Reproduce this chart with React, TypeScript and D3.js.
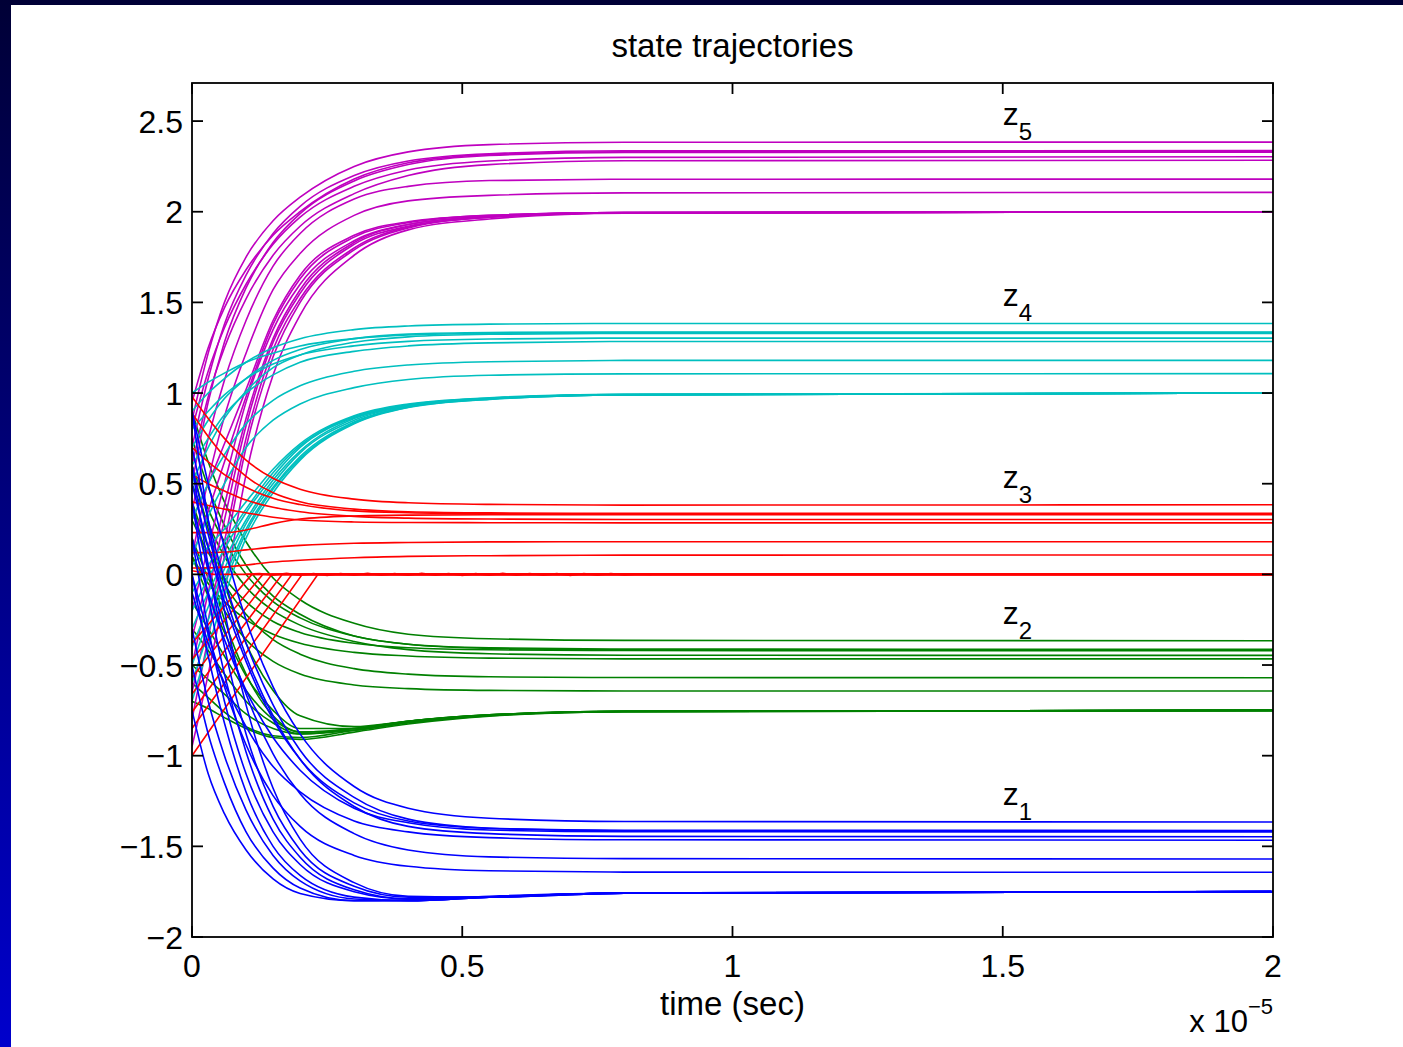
import React from "react";
import * as d3 from "d3";

// time samples (x 1e-5 s) shared by the smooth trajectories
const T = [0, 0.03, 0.06, 0.1, 0.15, 0.2, 0.3, 0.4, 0.55, 0.8, 2.0];

// z5 (magenta)
const z5Curves = [
  [0.85, 1.22, 1.5, 1.75, 1.95, 2.08, 2.25, 2.33, 2.37, 2.383, 2.384],
  [0.7, 1.08, 1.38, 1.65, 1.88, 2.03, 2.2, 2.28, 2.32, 2.336, 2.337],
  [0.95, 1.25, 1.47, 1.68, 1.87, 2.0, 2.18, 2.27, 2.315, 2.331, 2.333],
  [0.5, 0.95, 1.28, 1.58, 1.83, 1.99, 2.17, 2.26, 2.31, 2.327, 2.329],
  [0.8, 1.12, 1.36, 1.6, 1.82, 1.97, 2.14, 2.23, 2.28, 2.3, 2.303],
  [0.6, 0.98, 1.25, 1.52, 1.76, 1.92, 2.1, 2.2, 2.26, 2.281, 2.284],
  [0.35, 0.75, 1.07, 1.4, 1.7, 1.88, 2.07, 2.14, 2.172, 2.179, 2.18],
  [0.1, 0.52, 0.87, 1.22, 1.57, 1.77, 1.98, 2.06, 2.09, 2.104, 2.107],
  [-0.2, 0.15, 0.5, 0.95, 1.35, 1.6, 1.84, 1.93, 1.975, 1.995, 2.0],
  [-0.5, -0.1, 0.3, 0.82, 1.28, 1.55, 1.82, 1.92, 1.97, 1.994, 2.0],
  [-0.8, -0.35, 0.1, 0.7, 1.2, 1.5, 1.79, 1.91, 1.97, 1.993, 2.0],
  [0.1, 0.35, 0.62, 0.98, 1.38, 1.63, 1.86, 1.94, 1.98, 1.996, 2.0],
  [-0.95, -0.55, -0.1, 0.55, 1.1, 1.43, 1.76, 1.9, 1.96, 1.992, 2.0],
  [-0.35, 0.0, 0.38, 0.86, 1.3, 1.57, 1.83, 1.93, 1.975, 1.995, 2.0],
  [-0.65, -0.25, 0.18, 0.75, 1.24, 1.52, 1.8, 1.915, 1.97, 1.994, 2.0],
  [0.3, 0.5, 0.72, 1.02, 1.4, 1.65, 1.87, 1.945, 1.98, 1.996, 2.0],
];

// z4 (cyan)
const z4Curves = [
  [0.9, 1.0, 1.08, 1.17, 1.25, 1.3, 1.35, 1.37, 1.38, 1.384, 1.384],
  [0.7, 0.85, 0.97, 1.08, 1.18, 1.24, 1.3, 1.325, 1.334, 1.337, 1.337],
  [1.0, 1.06, 1.11, 1.17, 1.22, 1.26, 1.3, 1.32, 1.33, 1.333, 1.333],
  [0.5, 0.7, 0.86, 1.01, 1.14, 1.21, 1.28, 1.31, 1.324, 1.329, 1.329],
  [0.8, 0.9, 0.99, 1.08, 1.16, 1.21, 1.26, 1.285, 1.298, 1.303, 1.303],
  [0.6, 0.75, 0.88, 1.0, 1.1, 1.17, 1.23, 1.26, 1.277, 1.284, 1.284],
  [0.3, 0.5, 0.66, 0.83, 0.96, 1.04, 1.12, 1.155, 1.173, 1.18, 1.18],
  [0.1, 0.32, 0.5, 0.7, 0.85, 0.94, 1.03, 1.075, 1.098, 1.106, 1.107],
  [-0.3, -0.1, 0.08, 0.3, 0.52, 0.68, 0.86, 0.93, 0.97, 0.992, 1.0],
  [-0.5, -0.25, -0.02, 0.25, 0.48, 0.65, 0.84, 0.925, 0.968, 0.99, 1.0],
  [-0.1, 0.05, 0.18, 0.36, 0.56, 0.71, 0.87, 0.935, 0.972, 0.992, 1.0],
  [-0.7, -0.4, -0.12, 0.2, 0.45, 0.63, 0.83, 0.92, 0.965, 0.99, 1.0],
  [-0.2, -0.02, 0.14, 0.34, 0.54, 0.7, 0.865, 0.935, 0.97, 0.992, 1.0],
  [-0.6, -0.32, -0.06, 0.23, 0.47, 0.64, 0.835, 0.922, 0.966, 0.99, 1.0],
  [0.05, 0.15, 0.25, 0.4, 0.58, 0.72, 0.875, 0.94, 0.974, 0.993, 1.0],
  [-0.4, -0.18, 0.03, 0.28, 0.5, 0.67, 0.85, 0.93, 0.97, 0.991, 1.0],
];

// z3 (red): smooth trajectories
const z3Curves = [
  [0.98, 0.86, 0.75, 0.63, 0.53, 0.47, 0.415, 0.395, 0.386, 0.382, 0.384],
  [0.89, 0.76, 0.65, 0.54, 0.45, 0.4, 0.36, 0.345, 0.339, 0.337, 0.337],
  [0.7, 0.62, 0.55, 0.48, 0.42, 0.385, 0.35, 0.34, 0.335, 0.333, 0.333],
  [0.23, 0.23, 0.23, 0.245, 0.28, 0.305, 0.322, 0.327, 0.329, 0.329, 0.329],
  [0.55, 0.5, 0.46, 0.41, 0.37, 0.345, 0.32, 0.31, 0.305, 0.303, 0.303],
  [0.4, 0.38, 0.36, 0.34, 0.315, 0.3, 0.289, 0.286, 0.285, 0.284, 0.284],
  [0.12, 0.12, 0.123, 0.135, 0.15, 0.16, 0.172, 0.176, 0.179, 0.18, 0.18],
  [0.035, 0.036, 0.04, 0.052, 0.068, 0.078, 0.092, 0.099, 0.103, 0.106, 0.107],
];
// z3 (red): straight ramps reaching 0
const z3RampStart = [-1.0, -0.85, -0.76, -0.66, -0.57, -0.47, -0.38, 0.02];
const z3RampEnd = [0.233, 0.204, 0.185, 0.167, 0.148, 0.131, 0.111, 0.04];
// chattering around 0
const z3ChatterT = [0.1, 0.125, 0.15, 0.175, 0.2, 0.225, 0.25, 0.275, 0.3, 0.325, 0.35, 0.375, 0.4, 0.425, 0.45, 0.475, 0.5, 0.525, 0.55, 0.575, 0.6, 0.625, 0.65, 0.675, 0.7, 0.725, 0.75, 0.775, 0.8, 0.825, 0.85];
const z3ChatterV = [0.0, 0.005, -0.004, 0.006, -0.005, 0.004, -0.006, 0.005, -0.004, 0.006, -0.005, 0.004, -0.005, 0.006, -0.004, 0.005, -0.006, 0.004, -0.005, 0.006, -0.004, 0.005, -0.005, 0.004, -0.006, 0.005, -0.004, 0.005, -0.003, 0.002, 0.0];

// z2 (green)
const z2Curves = [
  [0.9, 0.62, 0.4, 0.18, -0.02, -0.14, -0.27, -0.33, -0.355, -0.364, -0.366],
  [0.6, 0.36, 0.18, 0.0, -0.15, -0.24, -0.34, -0.385, -0.405, -0.412, -0.413],
  [0.75, 0.48, 0.27, 0.05, -0.12, -0.22, -0.34, -0.385, -0.408, -0.416, -0.417],
  [0.3, 0.12, -0.02, -0.15, -0.26, -0.32, -0.38, -0.405, -0.416, -0.42, -0.421],
  [0.5, 0.28, 0.1, -0.07, -0.2, -0.28, -0.37, -0.415, -0.438, -0.446, -0.447],
  [0.1, -0.05, -0.15, -0.25, -0.33, -0.38, -0.43, -0.45, -0.462, -0.466, -0.466],
  [0.4, 0.15, -0.05, -0.22, -0.36, -0.44, -0.52, -0.55, -0.565, -0.569, -0.57],
  [0.2, -0.02, -0.2, -0.36, -0.48, -0.55, -0.61, -0.63, -0.64, -0.643, -0.643],
  [0.4, 0.05, -0.25, -0.55, -0.78, -0.87, -0.85, -0.81, -0.775, -0.756, -0.75],
  [-0.6, -0.68, -0.76, -0.84, -0.89, -0.9, -0.86, -0.82, -0.78, -0.757, -0.75],
  [-0.3, -0.42, -0.55, -0.7, -0.82, -0.88, -0.86, -0.815, -0.778, -0.756, -0.75],
  [0.1, -0.12, -0.32, -0.56, -0.75, -0.85, -0.85, -0.81, -0.775, -0.755, -0.75],
  [-0.7, -0.74, -0.79, -0.85, -0.9, -0.91, -0.87, -0.825, -0.782, -0.757, -0.75],
  [-0.5, -0.58, -0.66, -0.77, -0.85, -0.88, -0.85, -0.81, -0.776, -0.755, -0.75],
  [0.6, 0.25, -0.05, -0.38, -0.64, -0.78, -0.84, -0.81, -0.775, -0.755, -0.75],
  [-0.15, -0.3, -0.45, -0.64, -0.8, -0.87, -0.86, -0.815, -0.778, -0.756, -0.75],
];

// z1 (blue)
const z1Curves = [
  [0.9, 0.5, 0.15, -0.25, -0.62, -0.88, -1.17, -1.29, -1.345, -1.363, -1.366],
  [0.5, 0.15, -0.15, -0.48, -0.8, -1.02, -1.26, -1.36, -1.4, -1.411, -1.413],
  [0.7, 0.3, -0.03, -0.38, -0.72, -0.97, -1.23, -1.35, -1.4, -1.415, -1.417],
  [0.2, -0.1, -0.36, -0.64, -0.9, -1.08, -1.29, -1.37, -1.41, -1.419, -1.421],
  [0.6, 0.22, -0.1, -0.45, -0.78, -1.02, -1.28, -1.39, -1.43, -1.445, -1.447],
  [-0.1, -0.38, -0.6, -0.84, -1.06, -1.2, -1.36, -1.42, -1.452, -1.464, -1.466],
  [0.4, 0.02, -0.3, -0.66, -0.99, -1.21, -1.43, -1.52, -1.558, -1.568, -1.57],
  [0.0, -0.33, -0.62, -0.94, -1.22, -1.39, -1.55, -1.61, -1.635, -1.642, -1.643],
  [-0.75, -1.1, -1.32, -1.52, -1.68, -1.76, -1.8, -1.795, -1.775, -1.757, -1.75],
  [0.2, -0.3, -0.7, -1.1, -1.42, -1.6, -1.75, -1.79, -1.78, -1.758, -1.75],
  [0.6, 0.05, -0.4, -0.88, -1.28, -1.52, -1.72, -1.78, -1.78, -1.758, -1.75],
  [-0.3, -0.7, -1.0, -1.3, -1.55, -1.69, -1.79, -1.8, -1.78, -1.758, -1.75],
  [0.9, 0.3, -0.2, -0.72, -1.18, -1.46, -1.7, -1.775, -1.78, -1.758, -1.75],
  [-0.5, -0.88, -1.15, -1.42, -1.62, -1.73, -1.8, -1.8, -1.78, -1.757, -1.75],
  [0.4, -0.12, -0.55, -0.98, -1.35, -1.56, -1.74, -1.79, -1.78, -1.758, -1.75],
  [0.0, -0.45, -0.82, -1.2, -1.5, -1.66, -1.78, -1.8, -1.78, -1.758, -1.75],
];

const xTicks = [0, 0.5, 1, 1.5, 2];
const xTickLabels = ["0", "0.5", "1", "1.5", "2"];
const yTicks = [2.5, 2, 1.5, 1, 0.5, 0, -0.5, -1, -1.5, -2];
const yTickLabels = ["2.5", "2", "1.5", "1", "0.5", "0", "\u22120.5", "\u22121", "\u22121.5", "\u22122"];

const stateLabels = ["1", "2", "3", "4", "5"];
const stateLabelY = [-1.25, -0.25, 0.5, 1.5, 2.5];
const stateLabelX = 1.5;

const FONT = "'Liberation Sans', Arial, Helvetica, sans-serif";

export default function App() {
  const W = 1403, H = 1047;
  const L = 192, R = 1273, TOP = 83, BOT = 937;
  const x = d3.scaleLinear().domain([0, 2]).range([L, R]);
  const y = d3.scaleLinear().domain([-2, 2.71]).range([BOT, TOP]);
  const line = d3
    .line<[number, number]>()
    .x((d) => x(d[0]))
    .y((d) => y(d[1]))
    .curve(d3.curveMonotoneX);
  const straight = d3
    .line<[number, number]>()
    .x((d) => x(d[0]))
    .y((d) => y(d[1]));

  const toPts = (vals: number[]) => vals.map((v, i) => [T[i], v] as [number, number]);
  const tickLen = 11;
  const lw = 1.6;

  const groups: [number[][], string][] = [
    [z2Curves, "#008000"],
    [z5Curves, "#bf00bf"],
    [z4Curves, "#00bfbf"],
  ];

  return (
    <svg
      width={W}
      height={H}
      style={{ position: "absolute", left: 0, top: 0, display: "block" }}
      fontFamily={FONT}
    >
      <defs>
        <linearGradient id="bg" x1="0" y1="0" x2="0" y2="1">
          <stop offset="0" stopColor="#000036" />
          <stop offset="1" stopColor="#0000cc" />
        </linearGradient>
        <clipPath id="plotclip">
          <rect x={L} y={TOP} width={R - L} height={BOT - TOP} />
        </clipPath>
      </defs>
      <rect x={0} y={0} width={W} height={H} fill="url(#bg)" />
      <rect x={11} y={5} width={W - 11} height={H - 5} fill="#ffffff" />

      <g clipPath="url(#plotclip)" fill="none" strokeWidth={lw}>
        {groups.map(([curves, color], gi) =>
          curves.map((c, i) => (
            <path key={`g${gi}-${i}`} d={line(toPts(c)) || ""} stroke={color} />
          ))
        )}
        {z3Curves.map((c, i) => (
          <path key={`r${i}`} d={line(toPts(c)) || ""} stroke="#ff0000" />
        ))}
        {z3RampStart.map((v0, i) => (
          <path
            key={`rr${i}`}
            d={straight([[0, v0], [z3RampEnd[i], 0], [2, 0]]) || ""}
            stroke="#ff0000"
          />
        ))}
        <path
          d={straight(z3ChatterT.map((t, i) => [t, z3ChatterV[i]] as [number, number])) || ""}
          stroke="#ff0000"
        />
        {z1Curves.map((c, i) => (
          <path key={`b${i}`} d={line(toPts(c)) || ""} stroke="#0000ff" />
        ))}
      </g>

      {/* axes box */}
      <rect x={L} y={TOP} width={R - L} height={BOT - TOP} fill="none" stroke="#000" strokeWidth={1.8} />
      {/* ticks */}
      <g stroke="#000" strokeWidth={1.8}>
        {xTicks.map((t, i) => (
          <g key={`xt${i}`}>
            <line x1={x(t)} x2={x(t)} y1={BOT} y2={BOT - tickLen} />
            <line x1={x(t)} x2={x(t)} y1={TOP} y2={TOP + tickLen} />
          </g>
        ))}
        {yTicks.map((v, i) => (
          <g key={`yt${i}`}>
            <line x1={L} x2={L + tickLen} y1={y(v)} y2={y(v)} />
            <line x1={R} x2={R - tickLen} y1={y(v)} y2={y(v)} />
          </g>
        ))}
      </g>
      {/* tick labels */}
      <g fontSize={32} fill="#000">
        {xTicks.map((t, i) => (
          <text key={`xl${i}`} x={x(t)} y={BOT + 40} textAnchor="middle">
            {xTickLabels[i]}
          </text>
        ))}
        {yTicks.map((v, i) => (
          <text key={`yl${i}`} x={L - 9} y={y(v) + 11.5} textAnchor="end">
            {yTickLabels[i]}
          </text>
        ))}
      </g>
      {/* exponent */}
      <text x={R} y={1032} textAnchor="end" fontSize={31} fill="#000">
        x 10
        <tspan dy={-18} fontSize={22}>{"\u22125"}</tspan>
      </text>
      {/* title and x label */}
      <text x={(L + R) / 2} y={57} textAnchor="middle" fontSize={33} fill="#000">
        state trajectories
      </text>
      <text x={(L + R) / 2} y={1015} textAnchor="middle" fontSize={33} fill="#000">
        time (sec)
      </text>
      {/* state labels */}
      {stateLabels.map((s, i) => (
        <text key={`sl${i}`} x={x(stateLabelX)} y={y(stateLabelY[i]) + 4} fontSize={32} fill="#000">
          z
          <tspan dy={15} fontSize={24}>{s}</tspan>
        </text>
      ))}
    </svg>
  );
}
